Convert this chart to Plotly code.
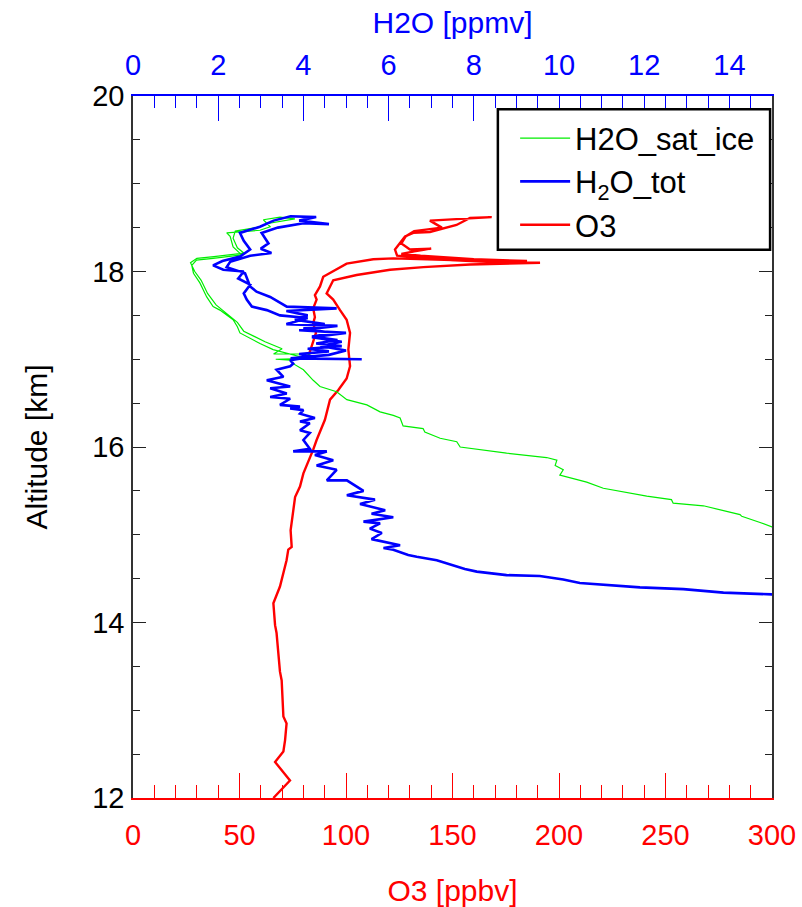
import plotly.graph_objects as go

# ---------------- data ----------------
o3_ppbv = [65.9, 73.7, 66.7, 70.6, 71.4, 72.1, 70.6, 69.8, 69.0, 67.4, 66.7, 65.9, 69.0, 72.1, 72.9,
           74.5, 74.0, 76.1, 78.4, 80.0, 84.6, 86.2, 90.1, 90.9, 92.5, 96.4, 100.3, 101.9, 101.1, 101.9,
           100.3, 97.2, 94.0, 90.9, 94.0, 105.0, 120.7, 136.3, 158.2, 191.1, 166.0, 148.8, 133.2, 124.0,
           123.0, 127.7, 131.6, 139.4, 151.9, 158.2, 168.4, 150.0, 139.4, 145.0, 132.0, 128.0, 126.0,
           130.0, 140.0, 132.0, 126.0, 135.0, 160.0, 185.0, 150.0, 122.2, 112.8, 100.3, 89.3, 87.8,
           85.4, 86.2, 84.6, 85.4, 84.6, 85.9, 84.6, 83.1, 82.3, 79.2]
o3_alt = [12.00, 12.20, 12.41, 12.53, 12.66, 12.85, 12.93, 13.34, 13.44, 13.88, 13.97, 14.22, 14.41, 14.71, 14.83,
          14.86, 15.05, 15.43, 15.55, 15.70, 15.97, 16.08, 16.31, 16.38, 16.54, 16.65, 16.78, 16.92, 17.11, 17.30,
          17.45, 17.56, 17.68, 17.75, 17.90, 17.96, 18.02, 18.05, 18.08, 18.10, 18.11, 18.13, 18.16, 18.18,
          18.25, 18.40, 18.44, 18.45, 18.53, 18.61, 18.62, 18.60, 18.58, 18.50, 18.46, 18.40, 18.32,
          18.25, 18.26, 18.23, 18.20, 18.18, 18.14, 18.12, 18.13, 18.15, 18.14, 18.09, 17.94, 17.83,
          17.73, 17.68, 17.58, 17.48, 17.41, 17.30, 17.20, 17.11, 17.03, 17.01]

h2o_tot_ppmv = [15.6, 14.99, 13.86, 12.92, 11.90, 10.49, 10.10, 9.55, 8.77, 8.07, 7.79, 7.44, 7.13, 6.66, 6.46,
                6.11, 5.88, 6.27, 5.60, 5.84, 5.56, 5.80, 5.41, 6.11, 5.60, 5.92, 5.33, 5.68, 5.02, 5.41,
                5.13, 5.02, 4.55, 4.78, 4.31, 4.70, 4.27, 4.55, 3.76, 4.15, 4.00, 4.15, 3.92, 4.15, 3.92,
                4.27, 3.92, 4.00, 3.69, 3.92, 3.45, 3.69, 3.22, 3.61, 3.22, 3.69, 3.14, 3.53, 3.37, 3.69,
                3.76, 3.69,
                4.2, 3.9, 4.6, 4.1, 4.9, 4.3, 4.8, 4.2, 4.7, 4.0, 4.5, 3.8, 4.1, 3.6, 4.78, 3.61, 3.22,
                2.9, 2.75, 2.63, 2.2, 2.28, 2.75, 3.25, 3.0, 3.18, 3.02, 3.4, 4.0, 4.6, 3.9, 4.3, 3.7,
                3.3, 2.98, 2.51, 2.6, 2.75, 2.51, 2.1, 1.88, 2.12, 2.6, 2.47, 2.75, 2.6, 2.67, 2.79, 3.14,
                3.45, 4.1, 3.6, 4.8, 3.9, 5.0, 4.2, 4.9, 4.4, 5.0, 4.6, 3.7, 5.37]
h2o_tot_alt = [14.30, 14.32, 14.34, 14.38, 14.40, 14.45, 14.49, 14.53, 14.54, 14.58, 14.61, 14.66, 14.71, 14.75, 14.77,
               14.83, 14.85, 14.88, 14.95, 15.02, 15.07, 15.13, 15.15, 15.20, 15.24, 15.28, 15.35, 15.40, 15.45, 15.50,
               15.59, 15.62, 15.62, 15.74, 15.79, 15.85, 15.91, 15.95, 15.95, 15.98, 16.08, 16.16, 16.19, 16.27, 16.29,
               16.33, 16.38, 16.42, 16.44, 16.46, 16.48, 16.55, 16.57, 16.61, 16.67, 16.69, 16.76, 16.80, 16.88, 16.92,
               16.95, 16.99,
               17.03, 17.06, 17.09, 17.12, 17.15, 17.18, 17.22, 17.26, 17.30, 17.35, 17.40, 17.45, 17.50, 17.55, 17.58, 17.60, 17.71,
               17.77, 17.83, 17.98, 18.05, 18.11, 18.18, 18.21, 18.26, 18.32, 18.44, 18.50, 18.55, 18.54, 18.58, 18.62, 18.63,
               18.58, 18.51, 18.44, 18.35, 18.25, 18.17, 18.12, 18.07, 18.02, 18.00, 17.92, 17.85, 17.75, 17.68, 17.60, 17.56,
               17.50, 17.47, 17.40, 17.38, 17.33, 17.30, 17.25, 17.20, 17.15, 17.10, 17.05, 17.01, 17.00]

h2o_ice_ppmv = [15.4, 15.0, 14.72, 14.29, 14.25, 13.39, 12.68, 12.64, 12.06, 11.04, 10.65, 10.02, 10.10, 9.91, 9.95,
                9.71, 8.77, 7.68, 7.60, 7.21, 6.85, 6.81, 6.34, 6.27, 6.11, 5.80, 5.49, 5.02, 4.78, 4.39,
                4.23, 4.0, 3.76, 3.69, 3.35, 4.15, 3.29,
                2.98, 2.51, 2.45, 2.35, 2.04, 1.88, 1.73, 1.57, 1.42, 1.38, 1.49, 1.88, 2.55, 2.35, 2.28,
                2.20, 2.98, 3.22, 3.06, 3.45, 3.8,
                3.2, 2.9, 2.4, 2.35, 2.45, 2.6, 1.9, 1.5, 1.35, 1.45, 1.6, 1.75, 1.95, 2.15, 2.45, 2.6,
                3.1, 3.5, 3.3, 4.15, 4.1, 3.35]
h2o_ice_alt = [15.05, 15.09, 15.14, 15.21, 15.23, 15.33, 15.36, 15.40, 15.44, 15.53, 15.60, 15.68, 15.74, 15.79, 15.85,
               15.88, 15.93, 16.00, 16.06, 16.10, 16.17, 16.21, 16.24, 16.33, 16.36, 16.40, 16.48, 16.54, 16.63, 16.69,
               16.76, 16.88, 16.95, 16.99, 17.00, 17.00, 17.11,
               17.18, 17.30, 17.37, 17.45, 17.56, 17.60, 17.71, 17.87, 17.98, 18.07, 18.13, 18.15, 18.19, 18.28, 18.40,
               18.44, 18.47, 18.51, 18.59, 18.62, 18.60,
               18.55, 18.50, 18.46, 18.38, 18.27, 18.21, 18.17, 18.15, 18.10, 18.00, 17.90, 17.75, 17.62, 17.54, 17.42, 17.32,
               17.20, 17.12, 17.06, 17.06, 17.01, 17.00]

o3_ticks = [0, 50, 100, 150, 200, 250, 300]
h2o_ticks = [0, 2, 4, 6, 8, 10, 12, 14]
alt_ticks = [12, 14, 16, 18, 20]

RED = "#ff0000"
BLUE = "#0000ff"
GREEN = "#00ee00"
FONT = "Liberation Sans, Arial, Helvetica, sans-serif"

fig = go.Figure()
fig.add_trace(go.Scatter(x=h2o_ice_ppmv, y=h2o_ice_alt, xaxis="x2", yaxis="y", mode="lines",
                         line=dict(color=GREEN, width=1.2), name="H2O_sat_ice"))
fig.add_trace(go.Scatter(x=h2o_tot_ppmv, y=h2o_tot_alt, xaxis="x2", yaxis="y", mode="lines",
                         line=dict(color=BLUE, width=2.6), name="H<sub>2</sub>O_tot"))
fig.add_trace(go.Scatter(x=o3_ppbv, y=o3_alt, xaxis="x", yaxis="y", mode="lines",
                         line=dict(color=RED, width=2.4), name="O3"))

fig.update_layout(
    width=802, height=907,
    margin=dict(l=133, r=30, t=96, b=109),
    paper_bgcolor="white", plot_bgcolor="white",
    font=dict(family=FONT, size=29, color="black"),
    showlegend=True,
    legend=dict(x=0.598, y=0.978, xanchor="left", yanchor="top", bgcolor="rgba(0,0,0,0)",
                borderwidth=0, font=dict(size=31, color="black"), itemwidth=50,
                tracegroupgap=0),
    xaxis=dict(range=[0, 300], tickvals=o3_ticks, ticks="inside", ticklen=25, tickwidth=1.3,
               tickcolor=RED, showline=True, linecolor=RED, linewidth=1.5,
               tickfont=dict(color=RED, size=29), ticklabelstandoff=10, automargin=False,
               minor=dict(dtick=10, ticks="inside", ticklen=13, tickcolor=RED, tickwidth=1.3, showgrid=False),
               showgrid=False, zeroline=False,
               title=dict(text="O3 [ppbv]", font=dict(color=RED, size=30), standoff=30)),
    xaxis2=dict(range=[0, 15], tickvals=h2o_ticks, overlaying="x", side="top", anchor="y",
                ticks="inside", ticklen=25, tickwidth=1.3, tickcolor=BLUE,
                showline=True, linecolor=BLUE, linewidth=1.5, automargin=False,
                tickfont=dict(color=BLUE, size=29), ticklabelstandoff=8,
                minor=dict(dtick=0.5, ticks="inside", ticklen=12, tickcolor=BLUE, tickwidth=1.3, showgrid=False),
                showgrid=False, zeroline=False,
                title=dict(text="H2O [ppmv]", font=dict(color=BLUE, size=30), standoff=6)),
    yaxis=dict(range=[12, 20], tickvals=alt_ticks, ticks="inside", ticklen=13, tickwidth=1.3,
               tickcolor="#222", showline=True, linecolor="#333", linewidth=1.5, mirror="ticks",
               tickfont=dict(color="black", size=29), ticklabelstandoff=1, automargin=False,
               minor=dict(dtick=0.5, ticks="inside", ticklen=7, tickcolor="#222", tickwidth=1.3, showgrid=False),
               showgrid=False, zeroline=False,
               title=dict(text="Altitude [km]", font=dict(color="black", size=30), standoff=36)),
    shapes=[dict(type="rect", xref="paper", yref="paper", x0=0.571, x1=0.997, y0=0.781, y1=0.981,
                 line=dict(color="black", width=2.5), fillcolor="white", layer="above")],
)

fig.write_html("out.html")
